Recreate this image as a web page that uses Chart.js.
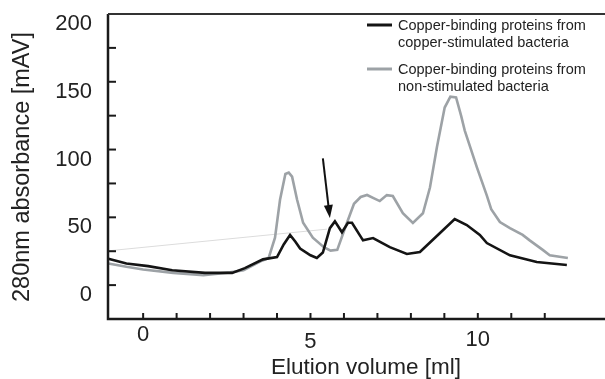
<!DOCTYPE html>
<html>
<head>
<meta charset="utf-8">
<script src="https://cdn.jsdelivr.net/npm/chart.js@4"></script>
<style>
  body { margin: 0; background: #fff; }
  #wrap { width: 605px; height: 379px; }
</style>
</head>
<body>
<div id="wrap"><canvas id="elution" width="605" height="379"></canvas></div>
<script>
// elution profile — two runs + faint baseline and arrow marking the Cu peak
const cuStimVol = [-1.04, -0.5, 0.15, 0.87, 1.85, 2.66, 3.04, 3.58, 4.0, 4.2, 4.39, 4.55, 4.69, 5.0, 5.19, 5.37, 5.58, 5.73, 5.94, 6.12, 6.24, 6.57, 6.87, 7.37, 7.88, 8.27, 8.87, 9.31, 9.67, 10.06, 10.27, 10.96, 11.76, 12.66];
const cuStimAbs = [19.5, 16, 14, 11, 9, 9, 12.5, 19, 20.7, 30, 37, 32, 27, 22, 20, 24, 42, 47, 39, 46, 46, 33, 34.7, 28, 23, 24.4, 38.4, 48.7, 44.3, 37, 31, 22, 17, 14.8];

const nonStimVol = [-1.04, -0.5, 0, 0.9, 1.8, 2.6, 3.0, 3.55, 3.75, 3.94, 4.09, 4.25, 4.35, 4.45, 4.6, 4.78, 5.07, 5.4, 5.6, 5.8, 6.09, 6.3, 6.5, 6.69, 6.9, 7.07, 7.28, 7.46, 7.76, 8.06, 8.36, 8.57, 8.78, 9.01, 9.18, 9.35, 9.5, 9.61, 9.97, 10.27, 10.4, 10.66, 10.96, 11.34, 11.55, 11.94, 12.15, 12.69];
const nonStimAbs = [16, 13.5, 11.5, 9, 7.4, 9.4, 11, 18, 20, 35, 63, 82, 83, 80, 63, 46, 35, 28, 25.5, 26, 46, 60, 65, 66.5, 64, 62, 66.4, 65.7, 53, 45.8, 53, 72, 102, 131, 139, 138.5, 125, 114, 87, 66, 56, 46.5, 42, 37, 33, 26, 22, 20];

const baseVol = [-1.04, 5.5];
const baseAbs = [25.3, 41.3];

// arrow: tail -> tip, in data units
const arrowVol = [5.37, 5.58];
const arrowAbs = [93.5, 49.5];

const xTickLabels = [0, 5, 10];
const yTickLabels = [0, 50, 100, 150, 200];

const seriesNames = [
  ['Copper-binding proteins from', 'copper-stimulated bacteria'],
  ['Copper-binding proteins from', 'non-stimulated bacteria'],
];

const toPts = (xs, ys) => xs.map((x, i) => ({ x, y: ys[i] }));

const FONT = '"Liberation Sans", Arial, Helvetica, sans-serif';
// the original labels sit a bit lower than their ticks, and "5"/"10" are staggered
const xLabelDrop = { 0: 16, 5: 23, 10: 21 };

const frame = {
  id: 'frame',
  afterDatasetsDraw(chart) {
    const { ctx, chartArea: a } = chart;
    const xs = chart.scales.x, ys = chart.scales.y;
    ctx.save();

    // arrow
    const x0 = xs.getPixelForValue(arrowVol[0]), y0 = ys.getPixelForValue(arrowAbs[0]);
    const x1 = xs.getPixelForValue(arrowVol[1]), y1 = ys.getPixelForValue(arrowAbs[1]);
    const ang = Math.atan2(y1 - y0, x1 - x0);
    ctx.strokeStyle = '#111'; ctx.fillStyle = '#111'; ctx.lineWidth = 2;
    ctx.beginPath();
    ctx.moveTo(x0, y0);
    ctx.lineTo(x1 - 10 * Math.cos(ang), y1 - 10 * Math.sin(ang));
    ctx.stroke();
    ctx.beginPath();
    ctx.moveTo(x1, y1);
    ctx.lineTo(x1 - 13 * Math.cos(ang) + 4.5 * Math.sin(ang), y1 - 13 * Math.sin(ang) - 4.5 * Math.cos(ang));
    ctx.lineTo(x1 - 13 * Math.cos(ang) - 4.5 * Math.sin(ang), y1 - 13 * Math.sin(ang) + 4.5 * Math.cos(ang));
    ctx.closePath();
    ctx.fill();

    // axes box (left, bottom, top)
    ctx.lineWidth = 2.5;
    ctx.strokeStyle = '#1a1a1a';
    ctx.beginPath();
    ctx.moveTo(a.left, a.top);
    ctx.lineTo(a.left, a.bottom);
    ctx.lineTo(a.right, a.bottom);
    ctx.stroke();
    ctx.strokeStyle = '#333';
    ctx.lineWidth = 2;
    ctx.beginPath();
    ctx.moveTo(a.left, a.top);
    ctx.lineTo(a.right, a.top);
    ctx.stroke();

    // inward ticks
    ctx.strokeStyle = '#1a1a1a';
    ctx.lineWidth = 2;
    xs.ticks.forEach(t => {
      if (t.value < 0 || t.value >= xs.max) return;
      const px = xs.getPixelForValue(t.value);
      ctx.beginPath(); ctx.moveTo(px, a.bottom); ctx.lineTo(px, a.bottom - 6); ctx.stroke();
    });
    ys.ticks.forEach(t => {
      if (t.value <= ys.min || t.value >= ys.max) return;
      const py = ys.getPixelForValue(t.value);
      ctx.beginPath(); ctx.moveTo(a.left, py); ctx.lineTo(a.left + 8, py); ctx.stroke();
    });

    // tick labels
    ctx.fillStyle = '#222';
    ctx.font = `22px ${FONT}`;
    ctx.textBaseline = 'middle';
    ctx.textAlign = 'center';
    xTickLabels.forEach(v => {
      ctx.fillText(String(v), xs.getPixelForValue(v), a.bottom + xLabelDrop[v]);
    });
    ctx.textAlign = 'right';
    yTickLabels.forEach(v => {
      ctx.fillText(String(v), a.left - 16, ys.getPixelForValue(v) + 10);
    });

    // axis titles
    ctx.textAlign = 'center';
    ctx.font = `22.5px ${FONT}`;
    ctx.fillText('Elution volume [ml]', 366, a.bottom + 49);
    ctx.save();
    ctx.translate(23, 167);
    ctx.rotate(-Math.PI / 2);
    ctx.font = `23.5px ${FONT}`;
    ctx.fillText('280nm absorbance [mAV]', 0, 0);
    ctx.restore();

    // legend
    const rows = [25, 69];
    ctx.font = `14.5px ${FONT}`;
    ctx.textAlign = 'left';
    seriesNames.forEach((lines, i) => {
      const ds = chart.data.datasets[i];
      ctx.strokeStyle = ds.borderColor;
      ctx.lineWidth = 3;
      ctx.beginPath(); ctx.moveTo(367, rows[i]); ctx.lineTo(392, rows[i]); ctx.stroke();
      ctx.fillStyle = '#222';
      lines.forEach((s, j) => ctx.fillText(s, 398, rows[i] + 1 + j * 17));
    });

    ctx.restore();
  }
};

new Chart(document.getElementById('elution'), {
  type: 'line',
  data: {
    datasets: [
      { label: seriesNames[0].join(' '), data: toPts(cuStimVol, cuStimAbs), borderColor: '#141414', borderWidth: 2.6 },
      { label: seriesNames[1].join(' '), data: toPts(nonStimVol, nonStimAbs), borderColor: '#9da2a6', borderWidth: 2.6 },
      { label: 'baseline', data: toPts(baseVol, baseAbs), borderColor: '#dcdcdc', borderWidth: 1 },
    ],
  },
  options: {
    responsive: false,
    animation: false,
    events: [],
    elements: { point: { radius: 0 }, line: { tension: 0, fill: false } },
    layout: { padding: { left: 108, top: 14, right: 0, bottom: 60 } },
    plugins: { legend: { display: false }, tooltip: { enabled: false } },
    scales: {
      x: {
        type: 'linear', min: -1.05, max: 13.8,
        ticks: { display: false, stepSize: 1 },
        grid: { display: false, drawTicks: false, tickLength: 0 },
        border: { display: false },
      },
      y: {
        min: -25, max: 200,
        ticks: { display: false, stepSize: 25 },
        grid: { display: false, drawTicks: false, tickLength: 0 },
        border: { display: false },
      },
    },
  },
  plugins: [frame],
});
</script>
</body>
</html>
